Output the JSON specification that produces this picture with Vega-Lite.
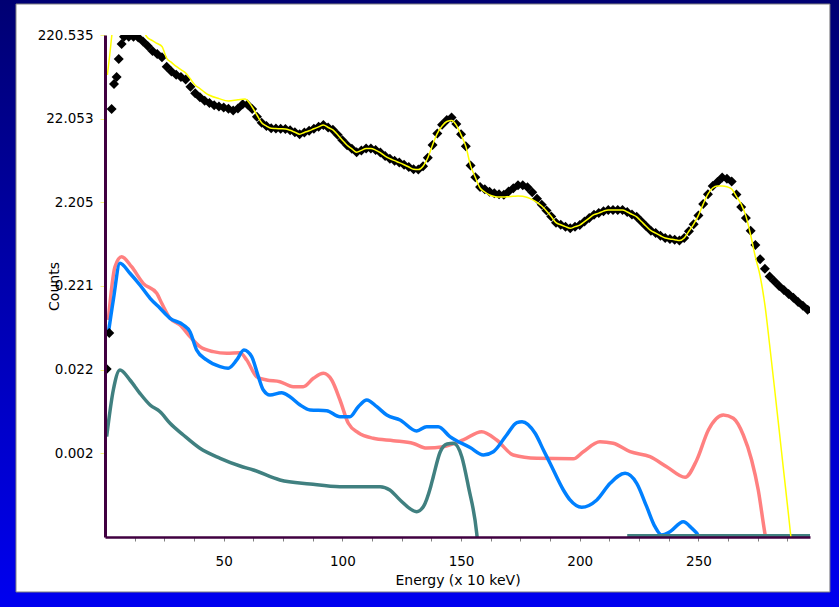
{
  "$schema": "https://vega.github.io/schema/vega-lite/v6.json",
  "width": 705,
  "height": 502,
  "autosize": {"type": "none"},
  "padding": {"left": 105, "top": 35, "right": 29, "bottom": 70},
  "background": "#0000a0",
  "config": {
    "view": {"stroke": null},
    "font": "DejaVu Sans",
    "axisX": {
      "grid": false,
      "domainColor": "#400040", "domainWidth": 2.5,
      "tickColor": "#808080", "tickSize": 4, "tickWidth": 1,
      "labelPadding": 13, "labelFont": "DejaVu Sans", "labelFontSize": 13.5, "labelColor": "#000000",
      "labelFlush": false, "labelOverlap": false,
      "titleFont": "DejaVu Sans", "titleFontSize": 14, "titleFontWeight": "normal", "titleColor": "#000000",
      "titleY": 36, "titleBaseline": "top"
    },
    "axisY": {
      "grid": false,
      "domainColor": "#400040", "domainWidth": 3,
      "tickColor": "#f4f480", "tickSize": 5, "tickWidth": 1,
      "labelPadding": 7, "labelFont": "DejaVu Sans", "labelFontSize": 13.5, "labelColor": "#000000",
      "labelFlush": false, "labelOverlap": false,
      "titleFont": "DejaVu Sans", "titleFontSize": 14, "titleFontWeight": "normal", "titleColor": "#000000",
      "titleX": -44, "titleY": 251, "titleAngle": -90, "titleBaseline": "bottom", "titleAlign": "center"
    }
  },
  "datasets": {
    "frame": [{"part": "panel"}],
    "measured": [
      {"E":0.7,"c":0.0225},{"E":1.8,"c":0.0605},{"E":2.8,"c":28.8},{"E":3.8,"c":57.3},{"E":4.9,"c":69.4},{"E":5.8,"c":113.9},{"E":7,"c":172.1},
      {"E":8,"c":210.5},{"E":10,"c":210.5},{"E":12,"c":210.5},{"E":14,"c":205.9},{"E":16,"c":184.4},{"E":18,"c":162.9},{"E":20,"c":142.0},{"E":22,"c":130.7},{"E":24,"c":119.4},{"E":26,"c":92.2},{"E":28,"c":80.8},{"E":30,"c":73.8},{"E":32,"c":69.4},{"E":34,"c":64.8},{"E":36,"c":53.2},{"E":38,"c":44.3},{"E":40,"c":39.7},{"E":42,"c":36.2},{"E":44,"c":33.9},{"E":46,"c":31.9},{"E":48,"c":30.9},{"E":50,"c":30.0},{"E":52,"c":28.9},{"E":54,"c":27.7},{"E":56,"c":29.2},{"E":58,"c":32.7},{"E":60,"c":32.6},{"E":62,"c":28.8},{"E":64,"c":23.2},{"E":66,"c":19.7},{"E":68,"c":18.0},{"E":70,"c":16.9},{"E":72,"c":16.8},{"E":74,"c":16.7},{"E":76,"c":16.6},{"E":78,"c":16.0},{"E":80,"c":15.2},{"E":82,"c":14.4},{"E":84,"c":15.1},{"E":86,"c":15.8},{"E":88,"c":16.7},{"E":90,"c":17.6},{"E":92,"c":18.5},{"E":94,"c":17.3},{"E":96,"c":16.2},{"E":98,"c":14.2},{"E":100,"c":12.2},{"E":102,"c":10.6},{"E":104,"c":9.62},{"E":106,"c":8.76},{"E":108,"c":9.21},{"E":110,"c":9.68},{"E":112,"c":9.70},{"E":114,"c":9.29},{"E":116,"c":8.67},{"E":118,"c":7.87},{"E":120,"c":7.33},{"E":122,"c":6.94},{"E":124,"c":6.58},{"E":126,"c":6.21},{"E":128,"c":5.83},{"E":130,"c":5.49},{"E":132,"c":5.43},{"E":134,"c":5.95},{"E":136,"c":7.51},{"E":138,"c":10.7},{"E":140,"c":14.7},{"E":142,"c":18.7},{"E":144,"c":21.3},{"E":146,"c":22.8},{"E":148,"c":19.1},{"E":150,"c":14.4},{"E":152,"c":10.3},{"E":154,"c":6.06},{"E":156,"c":4.39},{"E":158,"c":3.37},{"E":160,"c":3.17},{"E":162,"c":2.96},{"E":164,"c":2.84},{"E":166,"c":2.76},{"E":168,"c":2.72},{"E":170,"c":2.97},{"E":172,"c":3.25},{"E":174,"c":3.53},{"E":176,"c":3.53},{"E":178,"c":3.34},{"E":180,"c":2.91},{"E":182,"c":2.43},{"E":184,"c":2.07},{"E":186,"c":1.76},{"E":188,"c":1.49},{"E":190,"c":1.26},{"E":192,"c":1.19},{"E":194,"c":1.13},{"E":196,"c":1.08},{"E":198,"c":1.13},{"E":200,"c":1.18},{"E":202,"c":1.30},{"E":204,"c":1.43},{"E":206,"c":1.57},{"E":208,"c":1.64},{"E":210,"c":1.73},{"E":212,"c":1.79},{"E":214,"c":1.79},{"E":216,"c":1.79},{"E":218,"c":1.79},{"E":220,"c":1.69},{"E":222,"c":1.58},{"E":224,"c":1.48},{"E":226,"c":1.30},{"E":228,"c":1.14},{"E":230,"c":1.01},{"E":232,"c":0.946},{"E":234,"c":0.880},{"E":236,"c":0.826},{"E":238,"c":0.806},{"E":240,"c":0.789},{"E":242,"c":0.769},{"E":244,"c":0.826},{"E":246,"c":0.994},{"E":248,"c":1.21},{"E":250,"c":1.54},{"E":252,"c":2.10},{"E":254,"c":2.76},{"E":256,"c":3.46},{"E":258,"c":3.87},{"E":260,"c":4.36},{"E":262,"c":4.23},{"E":264,"c":3.92},{"E":266,"c":2.74},{"E":268,"c":1.94},{"E":270,"c":1.43},{"E":272,"c":1.01},{"E":274,"c":0.680},{"E":276,"c":0.462},{"E":278,"c":0.354},{"E":280,"c":0.287},{"E":282,"c":0.251},{"E":284,"c":0.221},{"E":286,"c":0.197},{"E":288,"c":0.177},{"E":290,"c":0.160},{"E":292,"c":0.142},{"E":294,"c":0.128},{"E":296,"c":0.115}
    ],
    "fit": [
      {"E":1,"c":73.3},{"E":2,"c":127.2},{"E":3,"c":233},{"E":5,"c":382},{"E":8,"c":464},{"E":12,"c":439},{"E":15,"c":315},{"E":17.5,"c":211.6},{"E":20,"c":188.5},{"E":22,"c":174.5},{"E":24,"c":160.7},{"E":26,"c":116.1},{"E":28,"c":103.7},{"E":30,"c":92.9},{"E":32,"c":85.1},{"E":34,"c":77.5},{"E":36,"c":65.7},{"E":38,"c":55.3},{"E":40,"c":50.5},{"E":42,"c":45.6},{"E":44,"c":42.0},{"E":48,"c":38.3},{"E":52,"c":35.9},{"E":56,"c":37.1},{"E":59,"c":37.9},{"E":62,"c":30.4},{"E":64,"c":24.4},{"E":66,"c":19.7},{"E":68,"c":18.0},{"E":70,"c":16.9},{"E":72,"c":16.8},{"E":74,"c":16.7},{"E":76,"c":16.6},{"E":78,"c":16.0},{"E":80,"c":15.2},{"E":82,"c":14.4},{"E":84,"c":15.1},{"E":86,"c":15.8},{"E":88,"c":16.7},{"E":90,"c":17.6},{"E":92,"c":18.5},{"E":94,"c":17.3},{"E":96,"c":16.2},{"E":98,"c":14.2},{"E":100,"c":12.2},{"E":102,"c":10.6},{"E":104,"c":9.62},{"E":106,"c":8.76},{"E":108,"c":9.21},{"E":110,"c":9.68},{"E":112,"c":9.70},{"E":114,"c":9.29},{"E":116,"c":8.67},{"E":118,"c":7.87},{"E":120,"c":7.33},{"E":122,"c":6.94},{"E":124,"c":6.58},{"E":126,"c":6.21},{"E":128,"c":5.83},{"E":130,"c":5.49},{"E":132,"c":5.43},{"E":134,"c":5.95},{"E":136,"c":7.51},{"E":138,"c":10.7},{"E":140,"c":14.7},{"E":142,"c":18.0},{"E":144,"c":20.4},{"E":146,"c":21.0},{"E":148,"c":18.5},{"E":150,"c":14.1},{"E":152,"c":10.3},{"E":154,"c":6.06},{"E":156,"c":4.39},{"E":158,"c":3.27},{"E":160,"c":2.93},{"E":162,"c":2.70},{"E":164,"c":2.59},{"E":166,"c":2.55},{"E":168,"c":2.55},{"E":170,"c":2.58},{"E":172,"c":2.60},{"E":174,"c":2.63},{"E":176,"c":2.61},{"E":178,"c":2.52},{"E":180,"c":2.38},{"E":182,"c":2.21},{"E":184,"c":1.99},{"E":186,"c":1.74},{"E":188,"c":1.49},{"E":190,"c":1.26},{"E":192,"c":1.19},{"E":194,"c":1.13},{"E":196,"c":1.08},{"E":198,"c":1.13},{"E":200,"c":1.18},{"E":202,"c":1.30},{"E":204,"c":1.43},{"E":206,"c":1.57},{"E":208,"c":1.64},{"E":210,"c":1.73},{"E":212,"c":1.79},{"E":214,"c":1.79},{"E":216,"c":1.79},{"E":218,"c":1.79},{"E":220,"c":1.69},{"E":222,"c":1.58},{"E":224,"c":1.48},{"E":226,"c":1.30},{"E":228,"c":1.14},{"E":230,"c":1.01},{"E":232,"c":0.946},{"E":234,"c":0.880},{"E":236,"c":0.826},{"E":238,"c":0.806},{"E":240,"c":0.789},{"E":242,"c":0.769},{"E":244,"c":0.826},{"E":246,"c":0.994},{"E":248,"c":1.21},{"E":250,"c":1.54},{"E":252,"c":2.10},{"E":254,"c":2.76},{"E":256,"c":3.27},{"E":258,"c":3.46},{"E":260,"c":3.46},{"E":262,"c":3.39},{"E":264,"c":3.18},{"E":266,"c":2.6},{"E":268,"c":2.1},{"E":270,"c":1.51},{"E":272,"c":0.898},{"E":274,"c":0.490},{"E":276,"c":0.290},{"E":278,"c":0.131},{"E":280,"c":0.0435},{"E":282,"c":0.0137},{"E":284,"c":0.0042},{"E":286,"c":0.00128},{"E":288,"c":0.000393},{"E":290,"c":0.000117}
    ],
    "pink": [
      {"E":1.4,"c":0.0865},{"E":4.2,"c":0.375},{"E":7.0,"c":0.494},{"E":11.2,"c":0.375},{"E":16.1,"c":0.2375},{"E":21.8,"c":0.1805},{"E":23.9,"c":0.137},{"E":27.4,"c":0.0907},{"E":31.6,"c":0.0754},{"E":35.8,"c":0.0547},{"E":40.0,"c":0.0415},{"E":45.6,"c":0.0362},{"E":51.3,"c":0.0346},{"E":56.9,"c":0.0352},{"E":59.7,"c":0.0288},{"E":63.9,"c":0.01818},{"E":68.1,"c":0.0166},{"E":73.7,"c":0.01584},{"E":79.3,"c":0.0138},{"E":83.5,"c":0.0138},{"E":87.8,"c":0.01739},{"E":92.0,"c":0.01996},{"E":95.5,"c":0.0166},{"E":99.0,"c":0.00957},{"E":102.5,"c":0.00504},{"E":106.7,"c":0.00389},{"E":113.0,"c":0.003337},{"E":121.5,"c":0.003124},{"E":129.9,"c":0.002891},{"E":135.5,"c":0.002555},{"E":142.5,"c":0.002648},{"E":150.9,"c":0.003184},{"E":158.7,"c":0.004001},{"E":165.0,"c":0.003184},{"E":172.0,"c":0.002108},{"E":181.9,"c":0.001924},{"E":197.3,"c":0.001898},{"E":201.5,"c":0.002307},{"E":208.5,"c":0.003039},{"E":214.1,"c":0.002907},{"E":221.2,"c":0.002307},{"E":229.6,"c":0.00201},{"E":236.6,"c":0.001527},{"E":244.4,"c":0.00114},{"E":249.3,"c":0.001836},{"E":254.2,"c":0.004195},{"E":260.5,"c":0.006334},{"E":264.7,"c":0.005785},{"E":268.9,"c":0.003653},{"E":272.4,"c":0.001836},{"E":275.2,"c":0.000804},{"E":278.0,"c":0.000244},{"E":278.9,"c":0.000177}
    ],
    "blue": [
      {"E":1.4,"c":0.060},{"E":3.5,"c":0.1501},{"E":6.3,"c":0.412},{"E":10.5,"c":0.3129},{"E":14.7,"c":0.2267},{"E":19.0,"c":0.1572},{"E":23.2,"c":0.1194},{"E":27.4,"c":0.0907},{"E":33.0,"c":0.0754},{"E":35.8,"c":0.0627},{"E":38.6,"c":0.0379},{"E":42.8,"c":0.0288},{"E":48.5,"c":0.02393},{"E":51.9,"c":0.02291},{"E":55.5,"c":0.0288},{"E":58.5,"c":0.0379},{"E":61.8,"c":0.0315},{"E":64.6,"c":0.01818},{"E":66.7,"c":0.0126},{"E":69.5,"c":0.01098},{"E":74.4,"c":0.0117},{"E":77.9,"c":0.01048},{"E":82.2,"c":0.00834},{"E":86.4,"c":0.00727},{"E":93.4,"c":0.00713},{"E":99.0,"c":0.00604},{"E":103.2,"c":0.00604},{"E":106.7,"c":0.00796},{"E":110.3,"c":0.00957},{"E":114.5,"c":0.00796},{"E":118.7,"c":0.00633},{"E":124.3,"c":0.00552},{"E":131.3,"c":0.00408},{"E":135.5,"c":0.00459},{"E":140.4,"c":0.00459},{"E":145.3,"c":0.00349},{"E":153.8,"c":0.00259},{"E":159.4,"c":0.002108},{"E":163.6,"c":0.002307},{"E":169.2,"c":0.003653},{"E":173.5,"c":0.00513},{"E":175.7,"c":0.00527},{"E":181.2,"c":0.00383},{"E":184.7,"c":0.00242},{"E":187.5,"c":0.001677},{"E":193.1,"c":0.000804},{"E":195.9,"c":0.000611},{"E":200.8,"c":0.0005},{"E":207.2,"c":0.000611},{"E":212.8,"c":0.000967},{"E":219.1,"c":0.001273},{"E":224.0,"c":0.000967},{"E":228.2,"c":0.000508},{"E":231.7,"c":0.000293},{"E":234.5,"c":0.000233},{"E":238.0,"c":0.000255},{"E":243.6,"c":0.000336},{"E":247.2,"c":0.00028},{"E":250.0,"c":0.000227},{"E":251.5,"c":0.000177}
    ],
    "teal": [
      {"seg":1,"E":0.7,"c":0.00349},{"seg":1,"E":3.5,"c":0.0126},{"seg":1,"E":6.3,"c":0.02186},{"seg":1,"E":10.5,"c":0.0166},{"seg":1,"E":14.7,"c":0.01151},{"seg":1,"E":19.0,"c":0.00834},{"seg":1,"E":23.2,"c":0.00694},{"seg":1,"E":27.4,"c":0.00504},{"seg":1,"E":33.0,"c":0.003653},{"seg":1,"E":40.0,"c":0.002534},{"seg":1,"E":48.5,"c":0.001924},{"seg":1,"E":56.9,"c":0.001557},{"seg":1,"E":62.5,"c":0.001395},{"seg":1,"E":73.7,"c":0.001059},{"seg":1,"E":86.4,"c":0.000949},{"seg":1,"E":99.0,"c":0.000881},{"seg":1,"E":115.9,"c":0.000881},{"seg":1,"E":120.0,"c":0.000804},{"seg":1,"E":124.3,"c":0.000611},{"seg":1,"E":131.3,"c":0.000443},{"seg":1,"E":134.1,"c":0.000508},{"seg":1,"E":137.2,"c":0.000881},{"seg":1,"E":138.3,"c":0.00116},{"seg":1,"E":141.2,"c":0.002289},{"seg":1,"E":144.1,"c":0.002851},{"seg":1,"E":146.8,"c":0.002907},{"seg":1,"E":150.3,"c":0.00201},{"seg":1,"E":153.1,"c":0.000881},{"seg":1,"E":156.6,"c":0.000244},{"seg":1,"E":157.1,"c":0.000177},
      {"seg":2,"E":220,"c":0.000228},{"seg":2,"E":297,"c":0.000228}
    ]
  },
  "layer": [
    {
      "data": {"name": "frame"},
      "mark": {"type": "rect", "clip": false,
        "fill": {"gradient": "linear", "x1": 0, "y1": 0, "x2": 0, "y2": 1,
          "stops": [{"offset": 0, "color": "#000072"}, {"offset": 1, "color": "#0000f0"}]}},
      "encoding": {
        "x": {"datum": -46, "type": "quantitative", "scale": {"domain": [0, 297], "nice": false, "zero": false},
          "axis": {"zindex": 1, "title": "Energy (x 10 keV)", "values": [12.5,25,37.5,50,62.5,75,87.5,100,112.5,125,137.5,150,162.5,175,187.5,200,212.5,225,237.5,250,262.5,275,287.5], "labelExpr": "datum.value % 50 === 0 ? format(datum.value, 'd') : ''"}},
        "x2": {"datum": 312},
        "y": {"datum": 620, "type": "quantitative", "scale": {"type": "log", "domain": [0.000220535, 220.535], "nice": false},
          "axis": {"zindex": 1, "title": "Counts", "values": [220.535, 22.053, 2.2054, 0.22054, 0.022054, 0.0022054], "format": ".3f"}},
        "y2": {"datum": 0.00003}
      }
    },
    {
      "data": {"name": "frame"},
      "mark": {"type": "rect", "clip": false, "fill": "#ffffff", "stroke": "#808080", "strokeWidth": 1},
      "encoding": {
        "x": {"datum": -37.5, "type": "quantitative",
          "axis": {"zindex": 1, "title": "Energy (x 10 keV)", "values": [12.5,25,37.5,50,62.5,75,87.5,100,112.5,125,137.5,150,162.5,175,187.5,200,212.5,225,237.5,250,262.5,275,287.5], "labelExpr": "datum.value % 50 === 0 ? format(datum.value, 'd') : ''"}},
        "x2": {"datum": 305.4},
        "y": {"datum": 517.6, "type": "quantitative",
          "axis": {"zindex": 1, "title": "Counts", "values": [220.535, 22.053, 2.2054, 0.22054, 0.022054, 0.0022054], "format": ".3f"}},
        "y2": {"datum": 0.00004856}
      }
    },
    {
      "data": {"name": "pink"},
      "mark": {"type": "line", "clip": true, "color": "#ff8080", "strokeWidth": 3.5, "interpolate": "monotone"},
      "encoding": {
        "x": {"field": "E", "type": "quantitative",
          "axis": {"zindex": 1, "title": "Energy (x 10 keV)", "values": [12.5,25,37.5,50,62.5,75,87.5,100,112.5,125,137.5,150,162.5,175,187.5,200,212.5,225,237.5,250,262.5,275,287.5], "labelExpr": "datum.value % 50 === 0 ? format(datum.value, 'd') : ''"}},
        "y": {"field": "c", "type": "quantitative",
          "axis": {"zindex": 1, "title": "Counts", "values": [220.535, 22.053, 2.2054, 0.22054, 0.022054, 0.0022054], "format": ".3f"}}
      }
    },
    {
      "data": {"name": "blue"},
      "mark": {"type": "line", "clip": true, "color": "#0080ff", "strokeWidth": 3.5, "interpolate": "monotone"},
      "encoding": {
        "x": {"field": "E", "type": "quantitative",
          "axis": {"zindex": 1, "title": "Energy (x 10 keV)", "values": [12.5,25,37.5,50,62.5,75,87.5,100,112.5,125,137.5,150,162.5,175,187.5,200,212.5,225,237.5,250,262.5,275,287.5], "labelExpr": "datum.value % 50 === 0 ? format(datum.value, 'd') : ''"}},
        "y": {"field": "c", "type": "quantitative",
          "axis": {"zindex": 1, "title": "Counts", "values": [220.535, 22.053, 2.2054, 0.22054, 0.022054, 0.0022054], "format": ".3f"}}
      }
    },
    {
      "data": {"name": "teal"},
      "mark": {"type": "line", "clip": true, "color": "#408080", "strokeWidth": 3.5, "interpolate": "monotone"},
      "encoding": {
        "x": {"field": "E", "type": "quantitative",
          "axis": {"zindex": 1, "title": "Energy (x 10 keV)", "values": [12.5,25,37.5,50,62.5,75,87.5,100,112.5,125,137.5,150,162.5,175,187.5,200,212.5,225,237.5,250,262.5,275,287.5], "labelExpr": "datum.value % 50 === 0 ? format(datum.value, 'd') : ''"}},
        "y": {"field": "c", "type": "quantitative",
          "axis": {"zindex": 1, "title": "Counts", "values": [220.535, 22.053, 2.2054, 0.22054, 0.022054, 0.0022054], "format": ".3f"}},
        "detail": {"field": "seg", "type": "nominal"}
      }
    },
    {
      "data": {"name": "measured"},
      "mark": {"type": "point", "clip": true, "shape": "diamond", "filled": true, "color": "#000000", "size": 100, "opacity": 1},
      "encoding": {
        "x": {"field": "E", "type": "quantitative",
          "axis": {"zindex": 1, "title": "Energy (x 10 keV)", "values": [12.5,25,37.5,50,62.5,75,87.5,100,112.5,125,137.5,150,162.5,175,187.5,200,212.5,225,237.5,250,262.5,275,287.5], "labelExpr": "datum.value % 50 === 0 ? format(datum.value, 'd') : ''"}},
        "y": {"field": "c", "type": "quantitative",
          "axis": {"zindex": 1, "title": "Counts", "values": [220.535, 22.053, 2.2054, 0.22054, 0.022054, 0.0022054], "format": ".3f"}}
      }
    },
    {
      "data": {"name": "fit"},
      "mark": {"type": "line", "clip": true, "color": "#ffff00", "strokeWidth": 1.5, "interpolate": "monotone"},
      "encoding": {
        "x": {"field": "E", "type": "quantitative",
          "axis": {"zindex": 1, "title": "Energy (x 10 keV)", "values": [12.5,25,37.5,50,62.5,75,87.5,100,112.5,125,137.5,150,162.5,175,187.5,200,212.5,225,237.5,250,262.5,275,287.5], "labelExpr": "datum.value % 50 === 0 ? format(datum.value, 'd') : ''"}},
        "y": {"field": "c", "type": "quantitative",
          "axis": {"zindex": 1, "title": "Counts", "values": [220.535, 22.053, 2.2054, 0.22054, 0.022054, 0.0022054], "format": ".3f"}}
      }
    }
  ]
}
